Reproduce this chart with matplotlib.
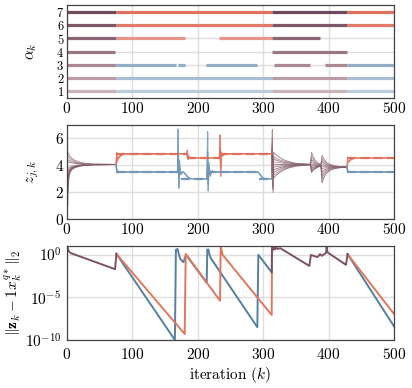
import numpy as np
import matplotlib
matplotlib.use('Agg')
import matplotlib.pyplot as plt

plt.rcParams['font.family'] = 'serif'
plt.rcParams['font.serif'] = ['cmr10', 'DejaVu Serif']
plt.rcParams['mathtext.fontset'] = 'cm'
plt.rcParams['axes.formatter.use_mathtext'] = True
plt.rcParams['font.size'] = 11

### colours
mauve = ['#c9b2b7', '#b99ca4', '#ab8992', '#9b7684', '#8c6676', '#7d5668', '#6e4a5c']
red_row = {5: '#e8958a', 6: '#e27a68', 7: '#e07060'}
blue_row = {1: '#bccbdc', 2: '#a9bed2', 3: '#93aec7'}
RED = '#e0705c'
BLUE = '#7196b8'
RED_ERR = '#e0775f'
BLUE_ERR = '#55809f'
MAUVE_ERR = '#7c5262'
BUNDLE = ['#8a6472', '#9a7682', '#7c5668', '#a58590', '#86606e', '#95707e', '#735062']

### top panel: active sets alpha_k (row, start, end, group)
alpha_row = [7, 7, 7, 7,
             6, 6, 6, 6,
             5, 5, 5, 5,
             4, 4,
             3, 3, 3, 3, 3, 3, 3,
             2, 2, 2, 2,
             1, 1, 1, 1]
alpha_start = [0, 75, 313, 428,
               0, 75, 313, 428,
               0, 75, 233, 313,
               0, 313,
               0, 75, 169, 213, 317, 395, 428,
               0, 75, 313, 428,
               0, 75, 313, 428]
alpha_end = [75, 313, 428, 500,
             75, 313, 428, 500,
             75, 181, 313, 387,
             74, 428,
             75, 167, 181, 291, 372, 428, 500,
             75, 313, 428, 500,
             75, 313, 428, 500]
alpha_group = ['m', 'r', 'm', 'r',
               'm', 'r', 'm', 'r',
               'm', 'r', 'r', 'm',
               'm', 'm',
               'm', 'b', 'b', 'b', 'm', 'm', 'b',
               'm', 'b', 'm', 'b',
               'm', 'b', 'm', 'b']

### middle panel: trajectories z_{j,k} (keypoints)
kA = [0, 1, 2, 3, 5, 8, 12, 18, 26, 40, 75]
zA = [[4.0, 1.0, 2.4, 3.1, 3.5, 3.7, 3.82, 3.92, 4.0, 4.05, 4.07],
      [4.0, 5.0, 4.9, 4.8, 4.65, 4.5, 4.38, 4.26, 4.17, 4.1, 4.07],
      [4.0, 2.0, 2.9, 3.3, 3.6, 3.77, 3.87, 3.95, 4.01, 4.05, 4.07],
      [4.0, 4.7, 4.65, 4.6, 4.5, 4.4, 4.3, 4.21, 4.14, 4.09, 4.07],
      [4.0, 3.0, 3.3, 3.5, 3.7, 3.83, 3.91, 3.98, 4.03, 4.06, 4.07],
      [4.0, 4.4, 4.42, 4.4, 4.35, 4.28, 4.22, 4.16, 4.11, 4.08, 4.07],
      [4.0, 3.5, 3.6, 3.7, 3.8, 3.88, 3.95, 4.0, 4.04, 4.06, 4.07],
      [4.0, 4.2, 4.25, 4.25, 4.22, 4.19, 4.16, 4.12, 4.09, 4.08, 4.07],
      [4.0, 3.8, 3.8, 3.85, 3.9, 3.95, 3.99, 4.02, 4.05, 4.06, 4.07],
      [4.0, 2.5, 3.1, 3.4, 3.65, 3.8, 3.89, 3.96, 4.02, 4.05, 4.07]]

kB_red = [75, 76, 77, 79, 82, 86, 92, 183]
zB_red = [[4.07, 4.97, 4.5, 4.6, 4.75, 4.83, 4.86, 4.87],
          [4.07, 4.2, 4.35, 4.55, 4.72, 4.82, 4.86, 4.87],
          [4.07, 4.6, 4.45, 4.58, 4.74, 4.83, 4.86, 4.87]]
kB_blue = [75, 76, 77, 79, 82, 86, 169]
zB_blue = [[4.07, 3.6, 3.55, 3.53, 3.52, 3.52, 3.52],
           [4.07, 3.75, 3.6, 3.55, 3.53, 3.52, 3.52],
           [4.07, 3.45, 3.5, 3.52, 3.52, 3.52, 3.52]]

kC_blue = [169, 170, 171, 172, 174, 177, 180, 184, 188, 214]
zC_blue = [[3.52, 6.7, 2.3, 4.4, 3.3, 3.5, 3.45, 3.2, 3.02, 3.0],
           [3.52, 5.0, 2.9, 3.9, 3.4, 3.55, 3.4, 3.15, 3.02, 3.0]]
kC_red = [183, 184, 185, 186, 188, 191, 195, 233]
zC_red = [[4.87, 5.15, 4.45, 4.7, 4.55, 4.56, 4.55, 4.55],
          [4.87, 4.6, 4.75, 4.5, 4.58, 4.55, 4.55, 4.55]]

kD_blue = [214, 215, 216, 217, 219, 222, 226, 232, 291]
zD_blue = [[3.0, 6.5, 2.1, 4.2, 3.2, 3.6, 3.5, 3.52, 3.52],
           [3.0, 5.0, 2.6, 3.9, 3.3, 3.58, 3.5, 3.52, 3.52],
           [3.0, 4.0, 3.0, 3.7, 3.4, 3.55, 3.52, 3.52, 3.52]]
kD_red = [233, 234, 235, 236, 238, 241, 245, 313]
zD_red = [[4.55, 6.27, 3.2, 5.0, 4.7, 4.82, 4.86, 4.87],
          [4.55, 5.3, 3.8, 4.9, 4.75, 4.84, 4.87, 4.87],
          [4.55, 4.9, 4.3, 4.8, 4.78, 4.85, 4.87, 4.87]]

kE_blue = [291, 293, 296, 299, 302, 313]
zE_blue = [[3.52, 3.45, 3.25, 3.08, 3.02, 3.0],
           [3.52, 3.48, 3.3, 3.1, 3.03, 3.0]]

kF = [313, 314, 315, 316, 318, 321, 325, 330, 338, 350, 372]
zF = [[4.5, 6.65, 2.0, 4.97, 4.88, 4.75, 4.6, 4.45, 4.3, 4.15, 4.08],
      [4.8, 5.8, 2.8, 4.67, 4.6, 4.5, 4.42, 4.34, 4.24, 4.13, 4.08],
      [3.5, 5.0, 3.0, 4.47, 4.43, 4.37, 4.31, 4.25, 4.18, 4.11, 4.07],
      [4.0, 4.6, 3.4, 4.27, 4.25, 4.22, 4.19, 4.16, 4.12, 4.09, 4.07],
      [4.87, 4.3, 3.6, 4.07, 4.07, 4.07, 4.07, 4.07, 4.07, 4.07, 4.07],
      [3.0, 4.9, 3.2, 3.87, 3.89, 3.92, 3.95, 3.98, 4.01, 4.05, 4.07],
      [4.87, 5.4, 2.4, 3.67, 3.71, 3.77, 3.83, 3.89, 3.96, 4.03, 4.06],
      [3.52, 5.2, 2.6, 3.47, 3.53, 3.62, 3.71, 3.8, 3.9, 4.0, 4.06],
      [3.0, 6.0, 2.2, 3.27, 3.35, 3.47, 3.59, 3.71, 3.85, 3.98, 4.06],
      [4.55, 4.8, 3.8, 3.07, 3.17, 3.32, 3.47, 3.62, 3.8, 3.95, 4.05]]

kG = [372, 373, 374, 376, 379, 383, 388, 389, 390, 392, 395, 398, 402, 408, 415, 428]
zG = [[4.07, 4.52, 4.97, 4.70, 4.41, 4.20, 4.07, 4.32, 4.75, 4.55, 4.32, 4.18, 4.08, 3.99, 3.92, 3.88],
      [4.07, 4.37, 4.67, 4.49, 4.27, 4.13, 4.05, 4.22, 4.50, 4.36, 4.20, 4.09, 4.02, 3.96, 3.91, 3.88],
      [4.07, 4.25, 4.42, 4.32, 4.16, 4.08, 4.03, 4.14, 4.30, 4.21, 4.10, 4.02, 3.98, 3.93, 3.90, 3.88],
      [4.07, 4.15, 4.22, 4.18, 4.07, 4.03, 4.01, 4.06, 4.10, 4.06, 4.00, 3.95, 3.93, 3.91, 3.89, 3.88],
      [4.07, 4.07, 4.07, 4.07, 4.00, 4.00, 4.00, 4.00, 3.95, 3.95, 3.92, 3.90, 3.90, 3.89, 3.88, 3.88],
      [4.07, 4.00, 3.92, 3.97, 3.93, 3.97, 3.99, 3.92, 3.75, 3.80, 3.82, 3.83, 3.86, 3.87, 3.87, 3.88],
      [4.07, 3.92, 3.77, 3.86, 3.87, 3.93, 3.98, 3.82, 3.50, 3.61, 3.70, 3.74, 3.80, 3.84, 3.86, 3.88],
      [4.07, 3.85, 3.62, 3.76, 3.80, 3.90, 3.96, 3.72, 3.25, 3.43, 3.57, 3.66, 3.75, 3.81, 3.85, 3.88],
      [4.07, 3.80, 3.52, 3.69, 3.75, 3.88, 3.96, 3.62, 3.00, 3.24, 3.45, 3.57, 3.69, 3.78, 3.83, 3.88],
      [4.07, 3.77, 3.47, 3.65, 3.73, 3.87, 3.95, 3.50, 2.70, 3.01, 3.30, 3.46, 3.63, 3.74, 3.82, 3.88]]

kH_red = [428, 429, 430, 432, 435, 440, 446, 500]
zH_red = [[3.88, 4.45, 4.25, 4.35, 4.48, 4.53, 4.55, 4.55],
          [3.88, 4.1, 4.2, 4.33, 4.46, 4.53, 4.55, 4.55]]
kH_blue = [428, 429, 431, 434, 438, 500]
zH_blue = [[3.88, 3.55, 3.52, 3.52, 3.52, 3.52],
           [3.88, 3.65, 3.56, 3.53, 3.52, 3.52],
           [3.88, 3.5, 3.51, 3.52, 3.52, 3.52]]

# reference values x* (dashed)
ref_red_start = [75, 183, 233, 428]
ref_red_end = [183, 233, 313, 500]
ref_red_val = [4.87, 4.55, 4.87, 4.55]
ref_blue_start = [75, 175, 214, 293, 428]
ref_blue_end = [170, 214, 291, 313, 500]
ref_blue_val = [3.52, 3.0, 3.52, 3.0, 3.52]

### bottom panel: error, log10 values at breakpoints
err_mauve_k = [0, 1.5, 3, 6, 73.5, 75.5]
err_mauve_log = [1.6, 0.6, 0.35, 0.16, -1.71, 0.08]
err_mauve2_k = [313, 313.5, 315, 316.5, 318, 320, 322, 326, 370.5, 373, 381, 383, 387, 389.5,
                395.5, 396.5, 397, 398, 400, 426.6, 429]
err_mauve2_log = [-2.07, 1.2, 0.55, 0.85, 0.6, 0.85, 0.65, 0.75, -1.33, -0.05, -0.25, -0.3, 0.05,
                  -0.15, 0.16, 0.4, 1.1, 0.3, 0.16, -1.2, 0.05]
err_red_k = [75.5, 180, 181.5, 234, 235, 238, 313, 313.5]
err_red_log = [0.08, -9.3, 0.08, -5.4, 0.94, -0.04, -7.07, 1.2]
err_blue_k = [75.5, 165, 166.5, 169, 170.5, 173, 178, 182, 213.6, 214.5, 216, 217.5,
              219.7, 291, 292.6, 313]
err_blue_log = [0.08, -10, 0.55, 0.65, 0.2, -0.5, -0.9, -0.05, -3.3, 0.55, 0.6, 0.1,
                -0.4, -8.5, -0.04, -2.07]
err_red2_k = [429, 500]
err_red2_log = [0.05, -6.95]
err_blue2_k = [429, 500]
err_blue2_log = [0.05, -8.4]

### Plot
fig = plt.figure(figsize=(4.12, 3.88), dpi=100)
ax1 = fig.add_axes([0.1626, 0.7474, 0.7937, 0.2397])
ax2 = fig.add_axes([0.1626, 0.4348, 0.7937, 0.2430])
ax3 = fig.add_axes([0.1626, 0.1237, 0.7937, 0.2423])

for ax in (ax1, ax2, ax3):
    ax.set_xlim(0, 500)
    ax.set_xticks([0, 100, 200, 300, 400, 500])
    ax.grid(True, color='#dedede', linewidth=1.0)
    ax.set_axisbelow(True)
    ax.tick_params(direction='in', length=0, labelsize=11, pad=2)
    for s in ax.spines.values():
        s.set_color('#444444')
        s.set_linewidth(0.9)

# top
for r, a, b, g in zip(alpha_row, alpha_start, alpha_end, alpha_group):
    if g == 'm':
        c = mauve[r - 1]
    elif g == 'r':
        c = red_row[r]
    else:
        c = blue_row[r]
    ax1.plot([a, b], [r, r], color=c, linewidth=2.3, solid_capstyle='butt')
ax1.set_ylim(0.5, 7.5)
ax1.set_yticks(range(1, 8))
ax1.tick_params(axis='y', labelsize=9)
ax1.set_ylabel(r'$\alpha_k$', labelpad=12)

# middle
for i, z in enumerate(zA):
    ax2.plot(kA, z, color=BUNDLE[i % 7], linewidth=0.7, alpha=0.8)
for i, z in enumerate(zF):
    ax2.plot(kF, z, color=BUNDLE[i % 7], linewidth=0.7, alpha=0.75)
for i, z in enumerate(zG):
    ax2.plot(kG, z, color=BUNDLE[i % 7], linewidth=0.7, alpha=0.75)
for kk, zz in [(kB_red, zB_red), (kC_red, zC_red), (kD_red, zD_red), (kH_red, zH_red)]:
    for z in zz:
        ax2.plot(kk, z, color=RED, linewidth=0.9, alpha=0.85)
for kk, zz in [(kB_blue, zB_blue), (kC_blue, zC_blue), (kD_blue, zD_blue),
               (kE_blue, zE_blue), (kH_blue, zH_blue)]:
    for z in zz:
        ax2.plot(kk, z, color=BLUE, linewidth=0.9, alpha=0.85)
for a, b, v in zip(ref_red_start, ref_red_end, ref_red_val):
    ax2.plot([a, b], [v, v], color=RED, linewidth=1.6, dashes=(4, 2))
for a, b, v in zip(ref_blue_start, ref_blue_end, ref_blue_val):
    ax2.plot([a, b], [v, v], color=BLUE, linewidth=1.6, dashes=(4, 2))
ax2.set_ylim(0, 7)
ax2.set_yticks([0, 2, 4, 6])
ax2.set_ylabel(r'$z_{j,k}$', labelpad=10)

# bottom
ax3.set_yscale('log')
ax3.plot(err_blue_k, 10.0 ** np.array(err_blue_log), color=BLUE_ERR, linewidth=1.4)
ax3.plot(err_red_k, 10.0 ** np.array(err_red_log), color=RED_ERR, linewidth=1.4)
ax3.plot(err_blue2_k, 10.0 ** np.array(err_blue2_log), color=BLUE_ERR, linewidth=1.4)
ax3.plot(err_red2_k, 10.0 ** np.array(err_red2_log), color=RED_ERR, linewidth=1.4)
ax3.plot(err_mauve_k, 10.0 ** np.array(err_mauve_log), color=MAUVE_ERR, linewidth=1.4)
ax3.plot(err_mauve2_k, 10.0 ** np.array(err_mauve2_log), color=MAUVE_ERR, linewidth=1.4)
ax3.set_ylim(1e-10, 1e1)
ax3.set_yticks([1e-10, 1e-5, 1e0])
ax3.minorticks_off()
ax3.tick_params(axis='x', pad=5)
ax3.tick_params(axis='y', pad=4)
ax3.set_ylabel(r'$\|\mathbf{z}_k-\mathbf{1}x_k^{q*}\|_2$', labelpad=1)
ax3.set_xlabel(r'iteration $(k)$', labelpad=2)

plt.savefig('out.png', dpi=100)
